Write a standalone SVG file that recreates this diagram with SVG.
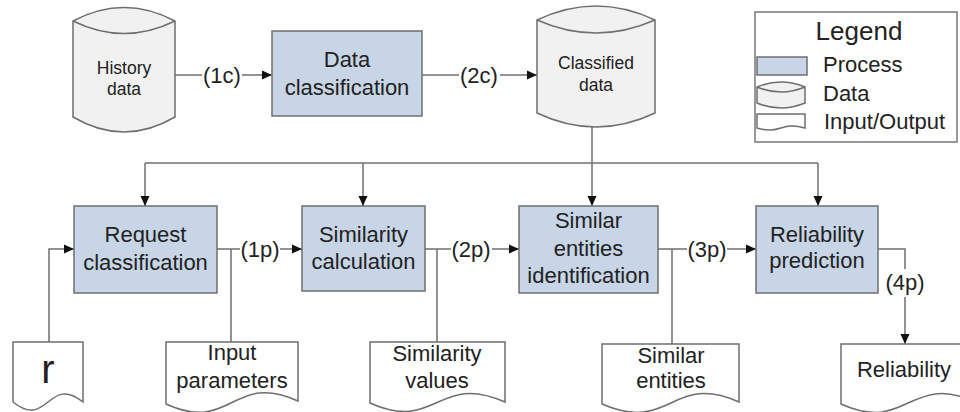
<svg xmlns="http://www.w3.org/2000/svg" width="960" height="412" viewBox="0 0 960 412">
<style>
.proc{fill:#c7d5e6;stroke:#6f6f6f;stroke-width:1.5}
.cyl{fill:#f1f1f1;stroke:#6f6f6f;stroke-width:1.5}
.doc{fill:#ffffff;stroke:#6f6f6f;stroke-width:1.5}
.ln{fill:none;stroke:#6f6f6f;stroke-width:1.5}
.ar{fill:none;stroke:#6f6f6f;stroke-width:1.5;marker-end:url(#ah)}
text{font-family:"Liberation Sans",Arial,sans-serif;fill:#222;text-anchor:middle}
.t22{font-size:22px}
.t18{font-size:17.5px}
.lg{text-anchor:start;font-size:22px}
</style>
<defs>
<marker id="ah" markerUnits="userSpaceOnUse" markerWidth="10" markerHeight="10" refX="10" refY="5" orient="auto">
<path d="M0,0.5 L10,5 L0,9.5 z" fill="#111"/>
</marker>
</defs>
<rect width="960" height="412" fill="#ffffff"/>

<g id="connectors">
<path class="ln" d="M175,75 H202"/>
<path class="ar" d="M242,75 H272"/>
<path class="ln" d="M422,75 H459"/>
<path class="ar" d="M500,75 H537"/>
<path class="ar" d="M592,127 V206"/>
<path class="ln" d="M145,163 H818"/>
<path class="ar" d="M145,163 V206"/>
<path class="ar" d="M363,163 V206"/>
<path class="ar" d="M818,163 V206"/>
<path class="ar" d="M49,342 V249 H74"/>
<path class="ln" d="M217,249 H240"/>
<path class="ar" d="M280,249 H302"/>
<path class="ln" d="M231,249 V342"/>
<path class="ln" d="M425,249 H451"/>
<path class="ar" d="M492,249 H519"/>
<path class="ln" d="M437,249 V342"/>
<path class="ln" d="M658,249 H687"/>
<path class="ar" d="M727,249 H756"/>
<path class="ln" d="M672,249 V344"/>
<path class="ln" d="M878,249 H905 V269"/>
<path class="ar" d="M905,297 V344"/>
<text class="t22" x="222" y="83">(1c)</text>
<text class="t22" x="479" y="83">(2c)</text>
<text class="t22" x="260" y="257">(1p)</text>
<text class="t22" x="471" y="257">(2p)</text>
<text class="t22" x="707" y="257">(3p)</text>
<text class="t22" x="905" y="290">(4p)</text>
</g>

<g id="history-data">
<path class="cyl" d="M73,21 Q124,-6 175,21 V117 Q124,147 73,117 Z"/>
<path class="ln" d="M73,21 Q124,46 175,21"/>
<text class="t18" x="124" y="74">History</text>
<text class="t18" x="124" y="95">data</text>
</g>

<g id="data-classification">
<rect class="proc" x="272" y="31" width="150" height="85"/>
<text class="t22" x="347" y="67">Data</text>
<text class="t22" x="347" y="95">classification</text>
</g>

<g id="classified-data">
<path class="cyl" d="M537,20 Q596,-8 655,20 V113 Q596,141 537,113 Z"/>
<path class="ln" d="M537,20 Q596,46 655,20"/>
<text class="t18" x="596" y="69">Classified</text>
<text class="t18" x="596" y="91">data</text>
</g>

<g id="legend">
<rect x="755" y="12" width="202" height="130" fill="#ffffff" stroke="#777" stroke-width="1.5"/>
<text x="859" y="40" style="font-size:26px">Legend</text>
<rect class="proc" x="757" y="57" width="50" height="18"/>
<text class="lg" x="823" y="72">Process</text>
<path class="cyl" d="M757,87 Q781,77 805,87 V103 Q781,113 757,103 Z"/>
<path class="ln" d="M757,87 Q781,97 805,87"/>
<text class="lg" x="823" y="101">Data</text>
<path class="doc" d="M757,128 V114 H805 V128 C781,121 781,135 757,128 Z"/>
<text class="lg" x="824" y="129">Input/Output</text>
</g>

<g id="request-classification">
<rect class="proc" x="74" y="206" width="143" height="87"/>
<text class="t22" x="145.5" y="242">Request</text>
<text class="t22" x="145.5" y="270">classification</text>
</g>

<g id="similarity-calculation">
<rect class="proc" x="302" y="206" width="123" height="85"/>
<text class="t22" x="363.5" y="242">Similarity</text>
<text class="t22" x="363.5" y="269">calculation</text>
</g>

<g id="similar-entities-identification">
<rect class="proc" x="519" y="206" width="139" height="87"/>
<text class="t22" x="588.5" y="228">Similar</text>
<text class="t22" x="588.5" y="256">entities</text>
<text class="t22" x="588.5" y="283">identification</text>
</g>

<g id="reliability-prediction">
<rect class="proc" x="756" y="206" width="122" height="87"/>
<text class="t22" x="817" y="242">Reliability</text>
<text class="t22" x="817" y="268">prediction</text>
</g>

<g id="r-input">
<path class="doc" d="M13,402 V342 H83 V402 C48,374 48,430 13,402 Z"/>
<text x="48" y="383" style="font-size:40px">r</text>
</g>

<g id="input-parameters">
<path class="doc" d="M166,404 V342 H298 V401 C232,371 232,434 166,404 Z"/>
<text class="t22" x="232" y="360">Input</text>
<text class="t22" x="232" y="388">parameters</text>
</g>

<g id="similarity-values">
<path class="doc" d="M370,403 V342 H505 V402 C437,372 437,433 370,403 Z"/>
<text class="t22" x="437" y="361">Similarity</text>
<text class="t22" x="437" y="388">values</text>
</g>

<g id="similar-entities">
<path class="doc" d="M602,404 V344 H739 V402 C671,372 671,434 602,404 Z"/>
<text class="t22" x="671" y="363">Similar</text>
<text class="t22" x="671" y="388">entities</text>
</g>

<g id="reliability">
<path class="doc" d="M841,404 V344 H976 V402 C908,372 908,434 841,404 Z"/>
<text class="t22" x="904" y="377">Reliability</text>
</g>
</svg>
